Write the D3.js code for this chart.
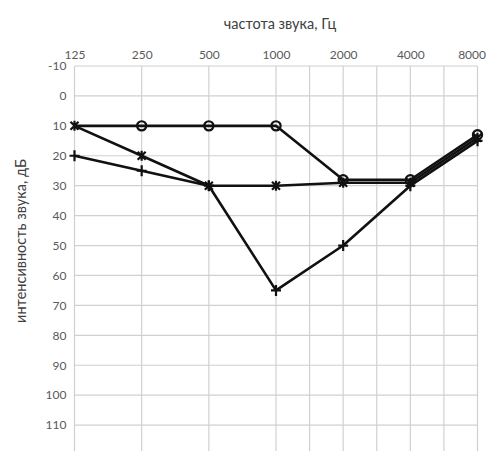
<!DOCTYPE html>
<html>
<head>
<meta charset="utf-8">
<script src="https://cdn.jsdelivr.net/npm/d3@7"></script>
<style>
  html, body { margin: 0; padding: 0; background: #fff; }
  svg { display: block; font-family: Lato, "Open Sans", sans-serif; }
</style>
</head>
<body>
<svg id="chart" width="489" height="451"></svg>
<script>
// Audiogram: frequency (Hz) across the top, hearing level (dB) downwards.
const freqs = [125, 250, 500, 1000, 2000, 4000, 8000];
const midOctaveFreqs = [1500, 3000, 6000];
const dbTicks = [-10, 0, 10, 20, 30, 40, 50, 60, 70, 80, 90, 100, 110, 120];

const circleValues = [10, 10, 10, 10, 28, 28, 13];
const starValues   = [10, 20, 30, 30, 29, 29, 14];
const plusValues   = [20, 25, 30, 65, 50, 30, 15];

const xTitle = "частота звука, Гц";
const yTitle = "интенсивность звука, дБ";

const series = [
  { name: "circle", values: circleValues, hideMarkerAt: [125] },
  { name: "star",   values: starValues,   hideMarkerAt: [] },
  { name: "plus",   values: plusValues,   hideMarkerAt: [] }
];

const width = 489;
const svg = d3.select("#chart");
const plot = { left: 74.5, right: 477.5, top: 66, bottom: 455 };

const x = d3.scaleLog().base(2).domain([125, 8000]).range([plot.left, plot.right]);
const y = d3.scaleLinear().domain([-10, 120]).range([plot.top, plot.bottom]);

// half-octave lines sit midway between neighbouring octave lines
const midX = f => {
  const lo = d3.max(freqs.filter(v => v < f));
  const hi = d3.min(freqs.filter(v => v > f));
  return (x(lo) + x(hi)) / 2;
};

const grid = svg.append("g").attr("stroke", "#d0d0d0").attr("stroke-width", 1.2);
grid.selectAll("line.h").data(dbTicks).join("line")
  .attr("class", "h")
  .attr("x1", plot.left).attr("x2", plot.right)
  .attr("y1", d => y(d)).attr("y2", d => y(d));
grid.selectAll("line.v").data(freqs).join("line")
  .attr("class", "v")
  .attr("x1", d => x(d)).attr("x2", d => x(d))
  .attr("y1", plot.top).attr("y2", plot.bottom);
grid.selectAll("line.m").data(midOctaveFreqs).join("line")
  .attr("class", "m")
  .attr("x1", d => midX(d)).attr("x2", d => midX(d))
  .attr("y1", plot.top).attr("y2", plot.bottom);

// axes: labels only, the grid supplies the lines
const plain = d => String(d);
const xAxis = svg.append("g")
  .attr("transform", `translate(0,${plot.top})`)
  .call(d3.axisTop(x).tickValues(freqs).tickFormat(plain).tickSize(0).tickPadding(7));
const yAxis = svg.append("g")
  .attr("transform", `translate(${plot.left},0)`)
  .call(d3.axisLeft(y).tickValues(dbTicks).tickFormat(plain).tickSize(0).tickPadding(8));
[xAxis, yAxis].forEach(a => {
  a.select(".domain").remove();
  a.selectAll("text").attr("fill", "#5a5a5a").style("font-size", "12px")
    .style("font-family", "Lato, 'Open Sans', sans-serif");
});
// keep the outermost frequency label inside the drawing
xAxis.selectAll(".tick text").each(function () {
  const box = this.getBBox();
  const tick = this.parentNode.transform.baseVal.consolidate().matrix.e;
  const overflow = tick + box.x + box.width - (width - 3);
  if (overflow > 0) d3.select(this).attr("dx", -overflow);
});

svg.append("text")
  .attr("x", 280).attr("y", 29)
  .attr("text-anchor", "middle")
  .attr("fill", "#404040").style("font-size", "14.5px")
  .text(xTitle);
svg.append("text")
  .attr("transform", "translate(26,241) rotate(-90)")
  .attr("text-anchor", "middle")
  .attr("fill", "#404040").style("font-size", "14.5px")
  .text(yTitle);

const line = d3.line().x(d => x(d.f)).y(d => y(d.v));

const markerShapes = {
  circle: g => g.append("circle").attr("r", 4.6),
  star: g => {
    g.append("path").attr("d", "M-4,-4L4,4M-4,4L4,-4M0,-5L0,5");
  },
  plus: g => {
    g.append("path").attr("d", "M-5,0L5,0M0,-5.5L0,5.5");
  }
};

series.forEach(s => {
  const pts = freqs.map((f, i) => ({ f, v: s.values[i] }));
  svg.append("path")
    .datum(pts)
    .attr("fill", "none")
    .attr("stroke", "#111")
    .attr("stroke-width", 2.6)
    .attr("stroke-linejoin", "round")
    .attr("d", line);

  svg.append("g")
    .selectAll("g")
    .data(pts.filter(p => !s.hideMarkerAt.includes(p.f)))
    .join("g")
    .attr("transform", d => `translate(${x(d.f)},${y(d.v)})`)
    .attr("fill", "none")
    .attr("stroke", "#111")
    .attr("stroke-width", 2.2)
    .each(function () { markerShapes[s.name](d3.select(this)); });
});
</script>
</body>
</html>
